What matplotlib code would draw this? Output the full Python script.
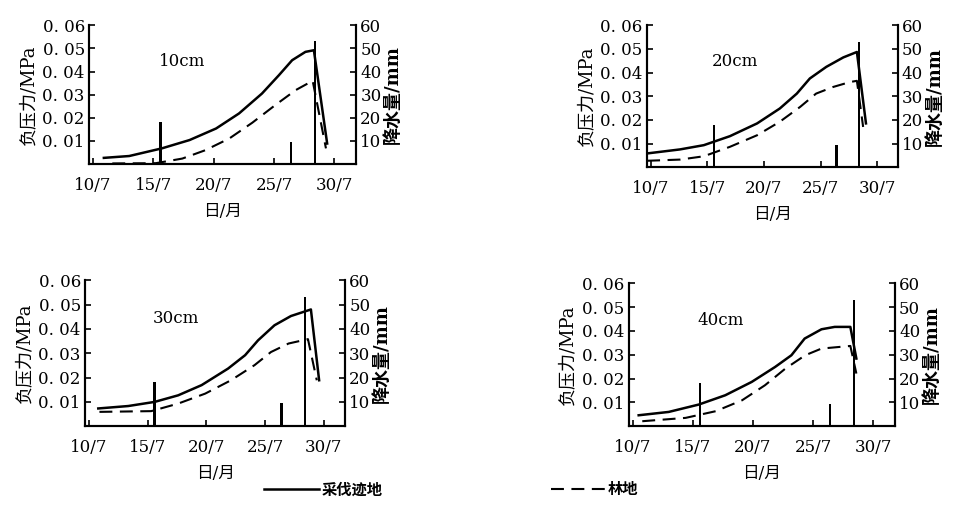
import matplotlib
matplotlib.use('Agg')
import matplotlib.pyplot as plt

plt.rcParams['font.family'] = ['DejaVu Serif', 'Noto Sans CJK SC']

# x axis: day of July
date_ticks = [10, 15, 20, 25, 30]
date_labels = ['10/7', '15/7', '20/7', '25/7', '30/7']
press_ticks = [0.01, 0.02, 0.03, 0.04, 0.05, 0.06]
press_labels = ['0. 01', '0. 02', '0. 03', '0. 04', '0. 05', '0. 06']
rain_ticks = [10, 20, 30, 40, 50, 60]

# rainfall (mm), same for all depths
rain_day = [15.6, 26.4, 28.4]
rain_mm = [18, 9.5, 53]

# 10cm
cut_10_day = [10.9, 13.0, 15.7, 18.0, 20.2, 22.1, 24.0, 25.4, 26.5, 27.6, 28.3, 29.4]
cut_10_val = [0.0027, 0.0035, 0.0068, 0.0104, 0.0154, 0.0219, 0.0305, 0.0384, 0.0449, 0.0485, 0.0492, 0.0089]
forest_10_day = [11.6, 15.2, 17.4, 19.3, 21.3, 23.2, 25.1, 26.8, 28.2, 29.3]
forest_10_val = [0.0003, 0.0004, 0.0024, 0.0060, 0.0111, 0.0179, 0.0255, 0.0320, 0.0360, 0.0068]

# 20cm
cut_20_day = [9.7, 12.6, 14.7, 17.0, 19.4, 21.4, 22.9, 24.05, 25.5, 27.0, 28.2, 29.0]
cut_20_val = [0.0058, 0.0075, 0.0093, 0.0131, 0.0185, 0.0248, 0.0311, 0.0375, 0.0424, 0.0464, 0.0487, 0.0185]
forest_20_day = [9.7, 12.6, 14.7, 17.0, 19.4, 21.4, 23.2, 24.6, 26.1, 27.6, 28.2, 28.75]
forest_20_val = [0.0027, 0.0032, 0.0046, 0.0086, 0.0135, 0.0192, 0.0255, 0.0311, 0.0339, 0.0360, 0.0365, 0.0170]

# 30cm
cut_30_day = [10.8, 13.35, 15.6, 17.6, 19.6, 21.85, 23.3, 24.4, 25.8, 27.2, 28.9, 29.6]
cut_30_val = [0.0073, 0.0083, 0.0100, 0.0127, 0.0169, 0.0237, 0.0292, 0.0353, 0.0415, 0.0453, 0.0480, 0.0189]
forest_30_day = [10.9, 15.3, 17.6, 19.9, 22.1, 24.1, 25.5, 27.0, 28.65, 29.4]
forest_30_val = [0.0059, 0.0062, 0.0093, 0.0134, 0.0189, 0.0251, 0.0305, 0.0340, 0.0358, 0.0189]

# 40cm
cut_40_day = [10.5, 13.0, 15.5, 17.7, 19.9, 21.85, 23.2, 24.3, 25.7, 26.8, 28.1, 28.6]
cut_40_val = [0.0046, 0.0060, 0.0091, 0.0130, 0.0186, 0.0249, 0.0298, 0.0368, 0.0407, 0.0417, 0.0417, 0.0284]
forest_40_day = [10.8, 14.4, 16.9, 19.1, 21.0, 22.7, 24.35, 25.7, 28.1, 28.6]
forest_40_val = [0.0021, 0.0035, 0.0063, 0.0109, 0.0172, 0.0242, 0.0298, 0.0326, 0.0337, 0.0221]

panels = [
    ('10cm', cut_10_day, cut_10_val, forest_10_day, forest_10_val, [0.0933, 0.675, 0.280, 0.275]),
    ('20cm', cut_20_day, cut_20_val, forest_20_day, forest_20_val, [0.678, 0.669, 0.263, 0.281]),
    ('30cm', cut_30_day, cut_30_val, forest_30_day, forest_30_val, [0.0891, 0.156, 0.2725, 0.289]),
    ('40cm', cut_40_day, cut_40_val, forest_40_day, forest_40_val, [0.659, 0.156, 0.279, 0.283]),
]

fig = plt.figure(figsize=(9.54, 5.05), dpi=100)

for name, cd, cv, fd, fv, rect in panels:
    ax = fig.add_axes(rect)
    ax2 = ax.twinx()
    ax.set_zorder(ax2.get_zorder() + 1)
    ax.patch.set_visible(False)

    l1, = ax.plot(cd, cv, color='black', lw=1.8, solid_joinstyle='round')
    l2, = ax.plot(fd, fv, color='black', lw=1.5, dashes=(6.2, 3.6))
    ax2.bar(rain_day, rain_mm, width=0.22, color='black')

    ax.set_xlim(9.67, 31.8)
    ax.set_ylim(0, 0.06)
    ax2.set_ylim(0, 60)
    ax.set_xticks(date_ticks)
    ax.set_xticklabels(date_labels, fontsize=12)
    ax.set_yticks(press_ticks)
    ax.set_yticklabels(press_labels, fontsize=12)
    ax2.set_yticks(rain_ticks)
    ax2.set_yticklabels([str(t) for t in rain_ticks], fontsize=12)

    ax.tick_params(axis='x', direction='in', length=4, width=1.2, pad=9)
    ax.tick_params(axis='y', direction='in', length=4, width=1.2, pad=3)
    ax2.tick_params(axis='y', direction='in', length=4, width=1.2, pad=3)

    for a in (ax, ax2):
        a.spines['top'].set_visible(False)
        for s in ('left', 'right', 'bottom'):
            a.spines[s].set_linewidth(1.5)

    ax.set_xlabel('日/月', fontsize=12, labelpad=7)
    ax.set_ylabel('负压力/MPa', fontsize=13, labelpad=4)
    ax2.set_ylabel('降水量/mm', fontsize=13, fontweight='bold', labelpad=2)
    ax.text(0.26, 0.71, name, transform=ax.transAxes, fontsize=12)

fig.legend([l1, l2], ['采伐迹地', '林地'], loc='lower center', bbox_to_anchor=(0.473, -0.012),
           ncol=2, frameon=False, handlelength=3.6, columnspacing=11, handletextpad=0.15,
           prop={'size': 11, 'weight': 'bold'})

fig.savefig('out.png', dpi=100)
